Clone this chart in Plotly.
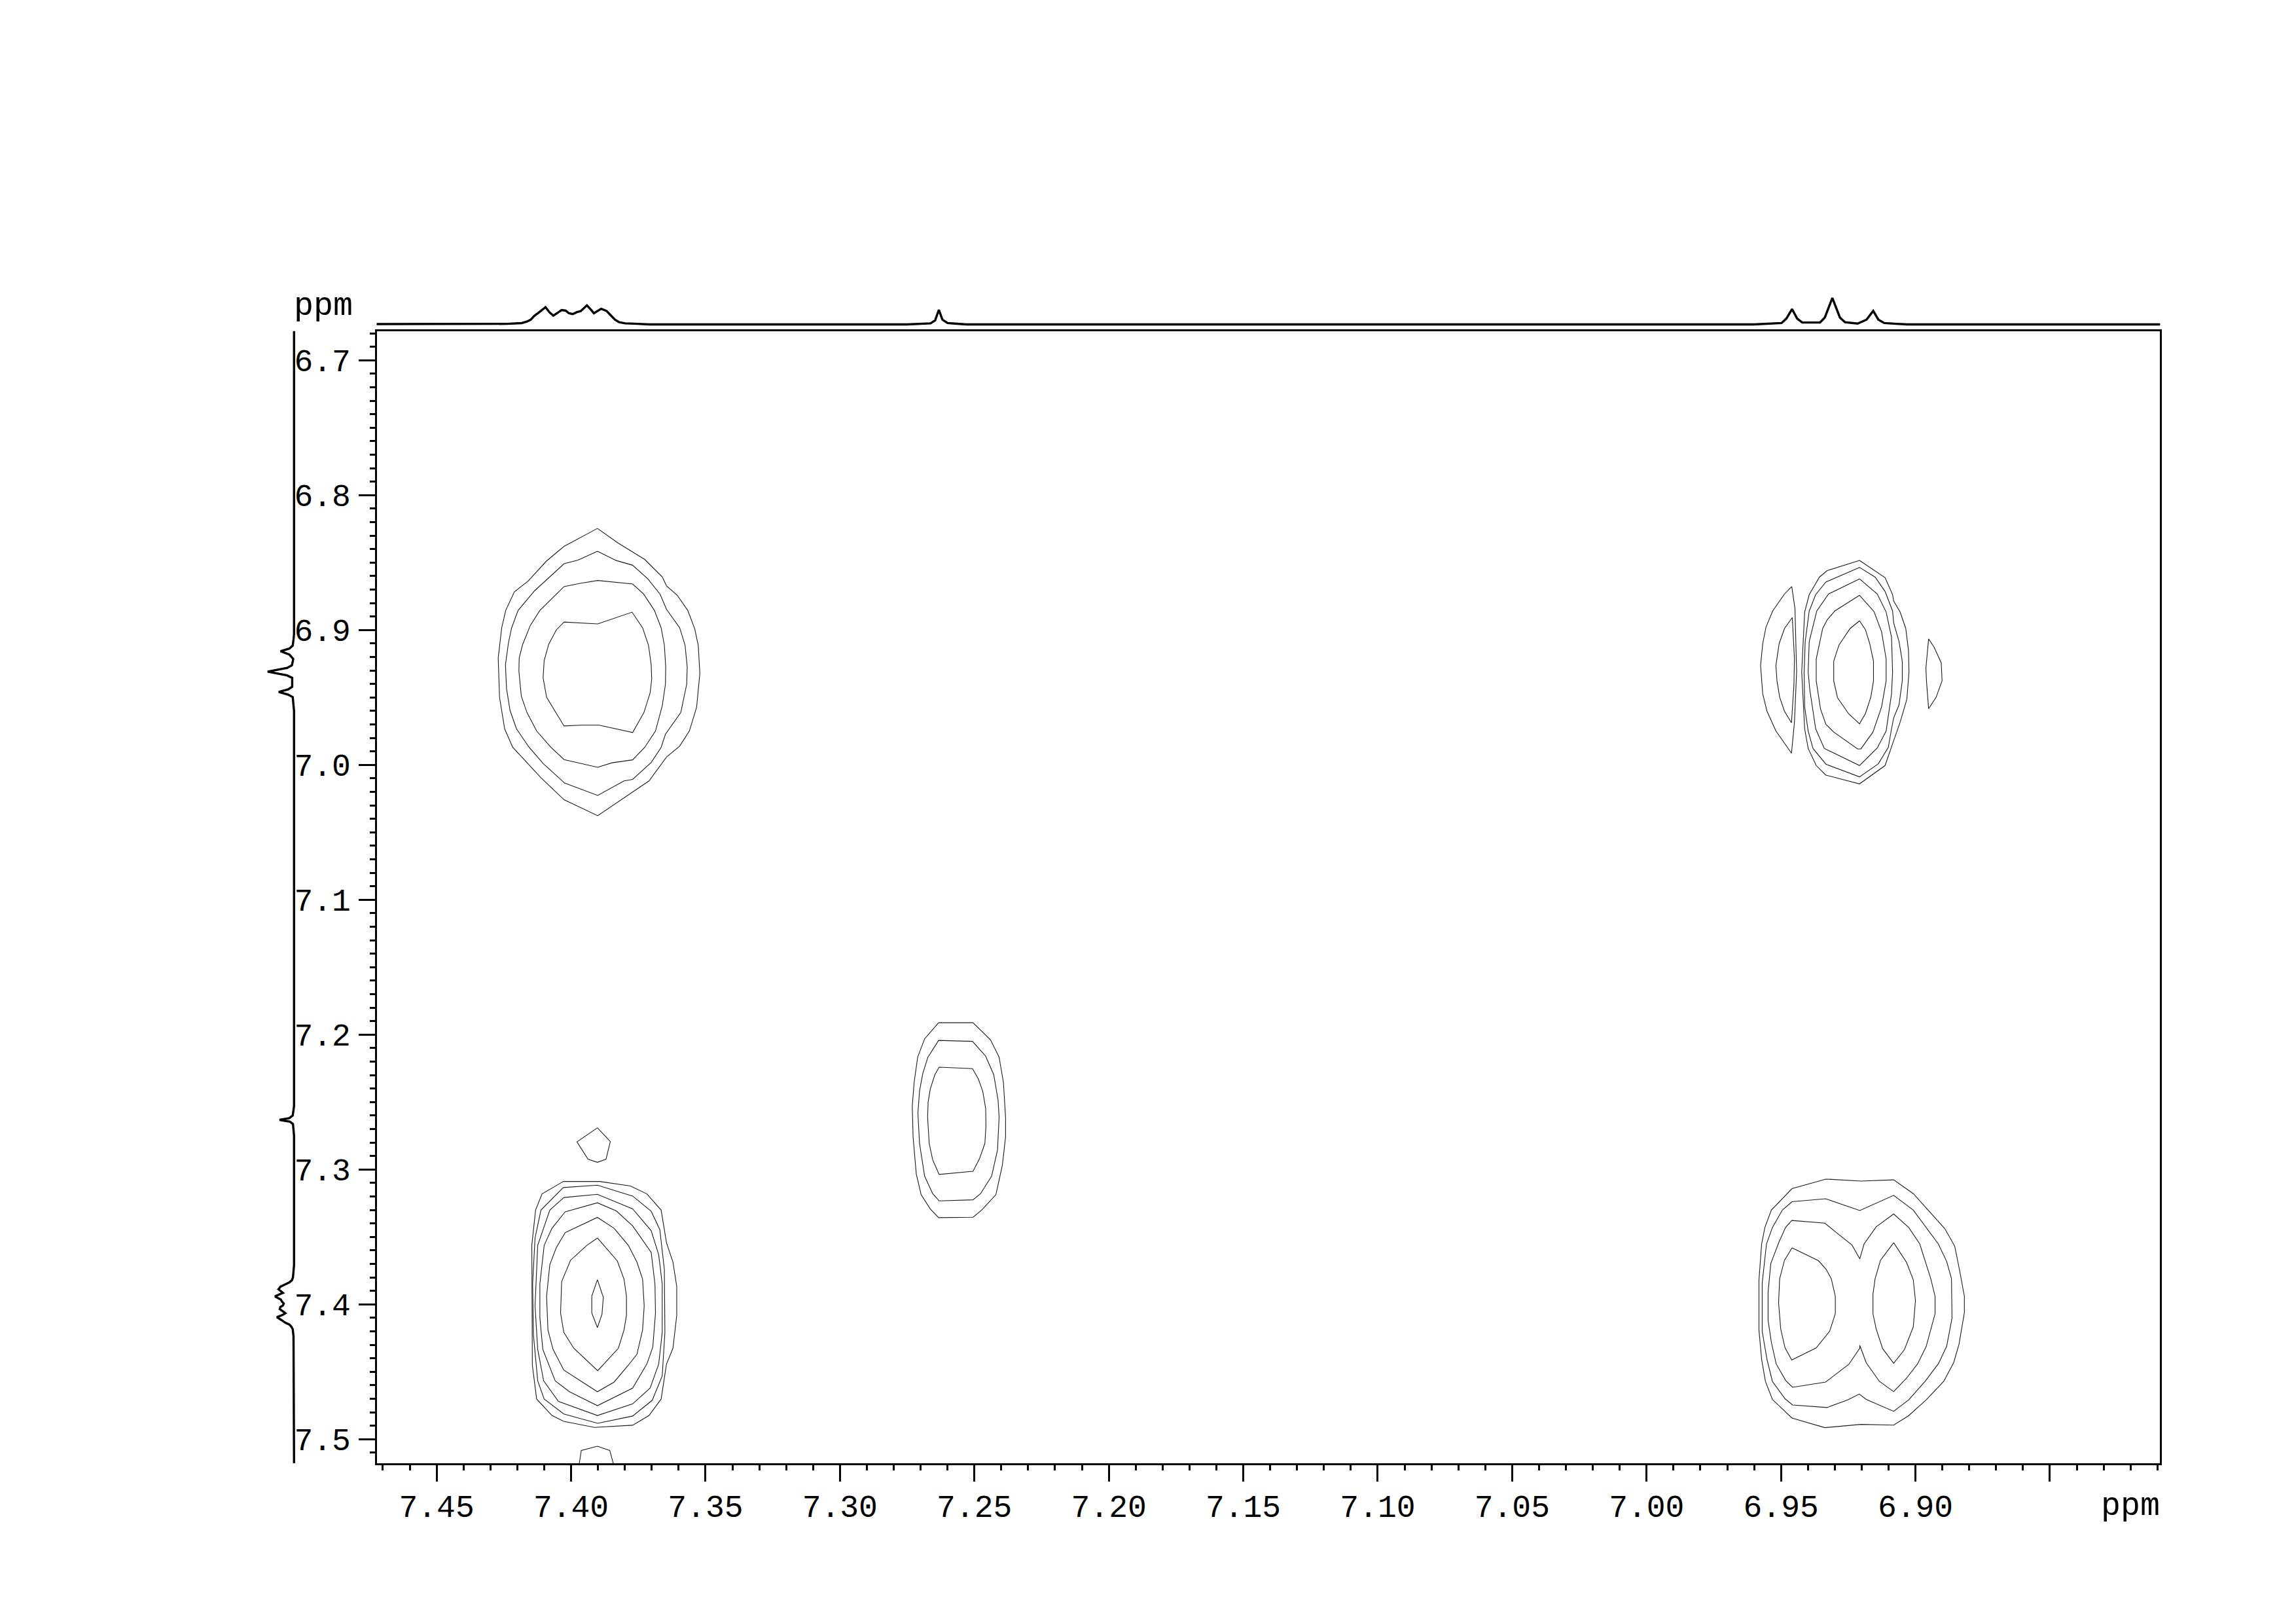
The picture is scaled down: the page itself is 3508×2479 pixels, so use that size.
import plotly.graph_objects as go

# 1D projection (ppm, relative intensity), used on both the top and the left side
spectrum_ppm = [7.5178, 7.4290, 7.4238, 7.4184, 7.4166, 7.4150, 7.4137, 7.4116, 7.4095, 7.4079, 7.4066, 7.4054, 7.4035,
                7.4020, 7.4008, 7.3994, 7.3979, 7.3964, 7.3941, 7.3926, 7.3915, 7.3888, 7.3868, 7.3855, 7.3837,
                7.3821, 7.3799, 7.3753, 7.3710, 7.2750, 7.2704, 7.2663, 7.2646, 7.2632, 7.2619, 7.2600, 7.2573, 7.2530,
                6.9600, 6.9554, 6.9498, 6.9480, 6.9459, 6.9440, 6.9421, 6.9355, 6.9337, 6.9309, 6.9281, 6.9262, 6.9215,
                6.9182, 6.9157, 6.9138, 6.9116, 6.9070, 6.9030, 6.6783]
spectrum_int = [0, 0, 0.02, 0.05, 0.10, 0.175, 0.32, 0.48, 0.65, 0.44, 0.33, 0.41, 0.54,
                0.52, 0.42, 0.39, 0.46, 0.50, 0.72, 0.55, 0.42, 0.59, 0.51, 0.37, 0.18,
                0.08, 0.04, 0.02, 0, 0, 0.02, 0.04, 0.15, 0.55, 0.18, 0.05, 0.03, 0,
                0, 0.03, 0.05, 0.22, 0.58, 0.22, 0.07, 0.07, 0.26, 1.0, 0.26, 0.08, 0.03,
                0.18, 0.51, 0.18, 0.05, 0.02, 0, 0]

x_major = [7.45, 7.40, 7.35, 7.30, 7.25, 7.20, 7.15, 7.10, 7.05, 7.00, 6.95, 6.90, 6.85]
x_labels = ["7.45", "7.40", "7.35", "7.30", "7.25", "7.20", "7.15", "7.10", "7.05", "7.00", "6.95", "6.90", ""]
y_major = [6.7, 6.8, 6.9, 7.0, 7.1, 7.2, 7.3, 7.4, 7.5]
y_labels = ["6.7", "6.8", "6.9", "7.0", "7.1", "7.2", "7.3", "7.4", "7.5"]

# Contours (F2 ppm, F1 ppm). Peak A: top left
A1 = [(7.3902,6.8247),(7.3825,6.8356),(7.3726,6.8477),(7.3661,6.8606),(7.3645,6.8673),(7.3605,6.8743),(7.3566,6.8855),(7.3540,6.8992),(7.3527,6.9113),(7.3521,6.9322),(7.3533,6.9572),(7.3560,6.9749),(7.3596,6.9861),(7.3645,6.9942),(7.3710,7.0119),(7.3807,7.0248),(7.3901,7.0377),(7.4026,7.0259),(7.4112,7.0095),(7.4217,6.9870),(7.4247,6.9733),(7.4266,6.9499),(7.4271,6.9209),(7.4258,6.8984),(7.4243,6.8855),(7.4211,6.8718),(7.4160,6.8638),(7.4091,6.8488),(7.4026,6.8380)]
A2 = [(7.3902,6.8416),(7.3832,6.8485),(7.3771,6.8520),(7.3714,6.8622),(7.3669,6.8734),(7.3645,6.8847),(7.3596,6.8984),(7.3576,6.9113),(7.3568,6.9274),(7.3570,6.9403),(7.3592,6.9612),(7.3649,6.9773),(7.3665,6.9870),(7.3702,6.9982),(7.3771,7.0108),(7.3803,7.0119),(7.3901,7.0227),(7.4024,7.0135),(7.4104,6.9990),(7.4156,6.9870),(7.4203,6.9733),(7.4227,6.9596),(7.4240,6.9435),(7.4244,6.9258),(7.4233,6.9097),(7.4221,6.8984),(7.4197,6.8855),(7.4136,6.8710),(7.4026,6.8509),(7.3974,6.8482)]
A3 = [(7.3901,6.8633),(7.3771,6.8659),(7.3730,6.8734),(7.3690,6.8855),(7.3665,6.8984),(7.3653,6.9113),(7.3648,6.9274),(7.3649,6.9403),(7.3661,6.9564),(7.3686,6.9749),(7.3726,6.9870),(7.3771,6.9963),(7.3848,6.9985),(7.3901,7.0018),(7.4026,6.9961),(7.4075,6.9870),(7.4128,6.9749),(7.4164,6.9612),(7.4185,6.9491),(7.4194,6.9306),(7.4193,6.9209),(7.4181,6.9113),(7.4152,6.8968),(7.4116,6.8855),(7.4026,6.8678),(7.3966,6.8654)]
A4 = [(7.4026,6.8941),(7.3901,6.8955),(7.3773,6.8868),(7.3734,6.8984),(7.3712,6.9113),(7.3702,6.9258),(7.3700,6.9362),(7.3706,6.9467),(7.3729,6.9612),(7.3771,6.9760),(7.3897,6.9705),(7.3958,6.9705),(7.4026,6.9712),(7.4091,6.9499),(7.4104,6.9354),(7.4100,6.9226),(7.4083,6.9105),(7.4055,6.9000)]

# Peak B: top right
B1 = [(6.9208,6.8484),(6.9113,6.8612),(6.9085,6.8738),(6.9081,6.8786),(6.9057,6.8867),(6.9036,6.8989),(6.9026,6.9150),(6.9024,6.9312),(6.9032,6.9514),(6.9057,6.9684),(6.9077,6.9798),(6.9089,6.9870),(6.9113,7.0005),(6.9208,7.0141),(6.9333,7.0076),(6.9369,7.0005),(6.9399,6.9878),(6.9412,6.9733),(6.9423,6.9312),(6.9412,6.8867),(6.9395,6.8738),(6.9357,6.8608),(6.9328,6.8560)]
B2 = [(6.9208,6.8536),(6.9150,6.8608),(6.9113,6.8714),(6.9085,6.8859),(6.9081,6.8948),(6.9061,6.9086),(6.9049,6.9231),(6.9049,6.9377),(6.9061,6.9555),(6.9081,6.9652),(6.9089,6.9733),(6.9101,6.9870),(6.9138,6.9992),(6.9208,7.0089),(6.9333,6.9995),(6.9381,6.9878),(6.9399,6.9749),(6.9412,6.9571),(6.9414,6.9312),(6.9410,6.9086),(6.9395,6.8859),(6.9371,6.8738),(6.9333,6.8644)]
B3 = [(6.9208,6.8621),(6.9142,6.8733),(6.9109,6.8867),(6.9089,6.9053),(6.9085,6.9312),(6.9089,6.9474),(6.9109,6.9749),(6.9142,6.9875),(6.9208,7.0005),(6.9339,6.9878),(6.9371,6.9733),(6.9393,6.9442),(6.9399,6.9312),(6.9395,6.9086),(6.9367,6.8859),(6.9323,6.8733)]
B4 = [(6.9208,6.8743),(6.9154,6.8864),(6.9126,6.9013),(6.9109,6.9215),(6.9109,6.9377),(6.9126,6.9571),(6.9158,6.9757),(6.9203,6.9882),(6.9215,6.9882),(6.9304,6.9757),(6.9333,6.9700),(6.9353,6.9587),(6.9369,6.9377),(6.9369,6.9215),(6.9345,6.8989),(6.9328,6.8924),(6.9300,6.8859)]
B5 = [(6.9208,6.8932),(6.9186,6.8997),(6.9170,6.9102),(6.9156,6.9231),(6.9156,6.9377),(6.9166,6.9498),(6.9186,6.9620),(6.9208,6.9696),(6.9249,6.9620),(6.9290,6.9501),(6.9304,6.9377),(6.9304,6.9231),(6.9284,6.9110),(6.9243,6.8989)]
B6 = [(6.9460,6.8678),(6.9448,6.8843),(6.9442,6.9312),(6.9450,6.9684),(6.9461,6.9914),(6.9519,6.9749),(6.9552,6.9603),(6.9568,6.9474),(6.9576,6.9264),(6.9568,6.9102),(6.9556,6.8980),(6.9531,6.8859),(6.9487,6.8733)]
B7 = [(6.9458,6.8908),(6.9450,6.9215),(6.9452,6.9409),(6.9461,6.9688),(6.9487,6.9603),(6.9505,6.9498),(6.9515,6.9377),(6.9519,6.9264),(6.9507,6.9102),(6.9487,6.8989)]
B8 = [(6.8951,6.9066),(6.8931,6.9126),(6.8904,6.9244),(6.8901,6.9377),(6.8923,6.9498),(6.8951,6.9584),(6.8959,6.9377),(6.8961,6.9280)]

# Peak C: centre
C1 = [(7.2633,7.1912),(7.2505,7.1912),(7.2440,7.2039),(7.2408,7.2168),(7.2392,7.2354),(7.2384,7.2613),(7.2384,7.2759),(7.2396,7.2969),(7.2420,7.3187),(7.2473,7.3301),(7.2505,7.3354),(7.2566,7.3357),(7.2633,7.3357),(7.2664,7.3293),(7.2698,7.3187),(7.2716,7.3034),(7.2728,7.2759),(7.2731,7.2532),(7.2724,7.2354),(7.2711,7.2168),(7.2685,7.2031)]
C2 = [(7.2633,7.2043),(7.2574,7.2047),(7.2507,7.2050),(7.2458,7.2160),(7.2428,7.2297),(7.2412,7.2484),(7.2408,7.2613),(7.2414,7.2856),(7.2436,7.3050),(7.2477,7.3179),(7.2505,7.3225),(7.2631,7.3233),(7.2655,7.3179),(7.2685,7.3050),(7.2704,7.2807),(7.2710,7.2581),(7.2704,7.2419),(7.2692,7.2289),(7.2673,7.2168)]
C3 = [(7.2631,7.2241),(7.2507,7.2252),(7.2485,7.2330),(7.2469,7.2419),(7.2458,7.2548),(7.2457,7.2678),(7.2461,7.2807),(7.2481,7.2920),(7.2505,7.3013),(7.2631,7.3037),(7.2655,7.2929),(7.2668,7.2807),(7.2674,7.2613),(7.2672,7.2500),(7.2664,7.2403),(7.2647,7.2297)]

# Peak D: bottom left
D0 = [(7.3902,7.2691),(7.3854,7.2793),(7.3870,7.2924),(7.3902,7.2947),(7.3937,7.2924),(7.3978,7.2795)]
D1 = [(7.4029,7.3089),(7.3893,7.3089),(7.3779,7.3122),(7.3718,7.3181),(7.3665,7.3301),(7.3645,7.3544),(7.3621,7.3687),(7.3607,7.3867),(7.3607,7.4082),(7.3621,7.4325),(7.3645,7.4442),(7.3665,7.4702),(7.3710,7.4824),(7.3771,7.4896),(7.3913,7.4912),(7.4027,7.4867),(7.4071,7.4824),(7.4128,7.4702),(7.4144,7.4451),(7.4146,7.3562),(7.4132,7.3301),(7.4108,7.3181)]
D2 = [(7.4029,7.3134),(7.3902,7.3116),(7.3771,7.3197),(7.3702,7.3310),(7.3670,7.3445),(7.3653,7.3741),(7.3651,7.4208),(7.3661,7.4531),(7.3698,7.4711),(7.3771,7.4828),(7.3901,7.4882),(7.4027,7.4813),(7.4100,7.4702),(7.4124,7.4567),(7.4140,7.4226),(7.4143,7.3849),(7.4134,7.3508),(7.4112,7.3301)]
D3 = [(7.4027,7.3208),(7.3902,7.3184),(7.3771,7.3292),(7.3702,7.3454),(7.3674,7.3633),(7.3661,7.3849),(7.3661,7.4208),(7.3674,7.4442),(7.3706,7.4621),(7.3771,7.4738),(7.3902,7.4824),(7.4047,7.4720),(7.4102,7.4567),(7.4124,7.4334),(7.4134,7.4011),(7.4124,7.3562),(7.4079,7.3301)]
D4 = [(7.4022,7.3314),(7.3902,7.3247),(7.3832,7.3307),(7.3771,7.3418),(7.3702,7.3615),(7.3688,7.3849),(7.3686,7.4064),(7.3696,7.4316),(7.3718,7.4442),(7.3771,7.4621),(7.3902,7.4751),(7.4006,7.4648),(7.4059,7.4567),(7.4105,7.4334),(7.4116,7.4100),(7.4116,7.3849),(7.4100,7.3562),(7.4071,7.3436)]
D5 = [(7.4022,7.3468),(7.3902,7.3355),(7.3840,7.3436),(7.3787,7.3562),(7.3755,7.3687),(7.3734,7.3813),(7.3728,7.4011),(7.3734,7.4190),(7.3755,7.4370),(7.3787,7.4451),(7.3840,7.4576),(7.3902,7.4648),(7.4027,7.4487),(7.4067,7.4334),(7.4086,7.4190),(7.4091,7.3939),(7.4079,7.3705),(7.4055,7.3580)]
D6 = [(7.3902,7.3508),(7.3828,7.3678),(7.3803,7.3813),(7.3794,7.3939),(7.3794,7.4082),(7.3803,7.4190),(7.3824,7.4325),(7.3901,7.4492),(7.3990,7.4325),(7.4027,7.4208),(7.4039,7.4064),(7.4035,7.3831),(7.4002,7.3673),(7.3941,7.3562)]
D7 = [(7.3902,7.3817),(7.3880,7.3948),(7.3885,7.4073),(7.3902,7.4172),(7.3923,7.4064),(7.3923,7.3939)]
D_edge = [(7.3970,7.5187),(7.3962,7.5083),(7.3902,7.5052),(7.3856,7.5083),(7.3842,7.5187)]

# Peak E: bottom right
E1 = [(6.9333,7.3071),(6.9203,7.3086),(6.9081,7.3077),(6.9008,7.3179),(6.8891,7.3438),(6.8854,7.3568),(6.8836,7.3746),(6.8818,7.3940),(6.8818,7.4061),(6.8838,7.4296),(6.8858,7.4433),(6.8895,7.4571),(6.8960,7.4708),(6.9025,7.4825),(6.9081,7.4895),(6.9203,7.4890),(6.9337,7.4914),(6.9459,7.4843),(6.9532,7.4705),(6.9558,7.4571),(6.9572,7.4409),(6.9582,7.4191),(6.9582,7.3819),(6.9572,7.3552),(6.9560,7.3430),(6.9536,7.3301),(6.9459,7.3142)]
E2 = [(6.9459,7.3239),(6.9334,7.3217),(6.9207,7.3304),(6.9081,7.3192),(6.9008,7.3301),(6.8915,7.3552),(6.8884,7.3681),(6.8866,7.3810),(6.8864,7.4102),(6.8884,7.4312),(6.8915,7.4441),(6.8964,7.4571),(6.9025,7.4708),(6.9081,7.4793),(6.9183,7.4705),(6.9209,7.4665),(6.9252,7.4708),(6.9329,7.4765),(6.9457,7.4746),(6.9485,7.4700),(6.9532,7.4571),(6.9552,7.4409),(6.9570,7.4199),(6.9570,7.3843),(6.9554,7.3552),(6.9532,7.3430),(6.9495,7.3301)]
E3 = [(6.9460,7.3378),(6.9337,7.3398),(6.9292,7.3471),(6.9236,7.3560),(6.9207,7.3662),(6.9191,7.3552),(6.9146,7.3425),(6.9081,7.3330),(6.9025,7.3430),(6.8984,7.3552),(6.8943,7.3810),(6.8927,7.3940),(6.8927,7.4069),(6.8960,7.4312),(6.8992,7.4441),(6.9033,7.4547),(6.9081,7.4647),(6.9134,7.4571),(6.9183,7.4433),(6.9207,7.4304),(6.9207,7.4325),(6.9248,7.4445),(6.9334,7.4576),(6.9457,7.4615),(6.9483,7.4563),(6.9518,7.4441),(6.9536,7.4280),(6.9548,7.4118),(6.9548,7.3908),(6.9538,7.3697),(6.9507,7.3535),(6.9483,7.3430)]
E4 = [(6.9459,7.3581),(6.9361,7.3676),(6.9333,7.3738),(6.9313,7.3810),(6.9298,7.3940),(6.9298,7.4069),(6.9319,7.4199),(6.9369,7.4323),(6.9460,7.4412),(6.9485,7.4323),(6.9501,7.4183),(6.9509,7.3988),(6.9505,7.3810),(6.9487,7.3673)]
E5 = [(6.9081,7.3543),(6.9033,7.3689),(6.9008,7.3819),(6.9000,7.3972),(6.9008,7.4166),(6.9041,7.4336),(6.9081,7.4437),(6.9122,7.4328),(6.9146,7.4183),(6.9158,7.4069),(6.9158,7.3924),(6.9150,7.3810),(6.9130,7.3673)]

closed_contours = [A1, A2, A3, A4, B1, B2, B3, B4, B5, B6, B7, B8, C1, C2, C3,
                   D0, D1, D2, D3, D4, D5, D6, D7, E1, E2, E3, E4, E5]
open_contours = [D_edge]

W, H = 3508, 2479
PLOT_L, PLOT_R, PLOT_T, PLOT_B = 575.5, 3300.4, 505.5, 2235.0
F2_RANGE = [7.4723, 6.8090]
F1_RANGE = [7.5178, 6.6783]
FONT = "Liberation Mono"
FS = 48
INK = "#000000"

fig = go.Figure()

for c in closed_contours + open_contours:
    pts = c + [c[0]] if c in closed_contours else c
    fig.add_trace(go.Scatter(x=[p[0] for p in pts], y=[p[1] for p in pts], mode="lines",
                             line=dict(color="#1a1a1a", width=1.1), showlegend=False, hoverinfo="skip"))

fig.add_trace(go.Scatter(x=spectrum_ppm, y=spectrum_int, xaxis="x", yaxis="y2", mode="lines",
                         line=dict(color=INK, width=3.4), showlegend=False, hoverinfo="skip"))
fig.add_trace(go.Scatter(x=spectrum_int, y=spectrum_ppm, xaxis="x2", yaxis="y", mode="lines",
                         line=dict(color=INK, width=3.4), showlegend=False, hoverinfo="skip"))

axis_common = dict(showgrid=False, zeroline=False, showline=True, linecolor=INK, linewidth=3, mirror=True,
                   ticks="outside", tickcolor=INK, tickwidth=3, ticklen=25, tickmode="array",
                   tickfont=dict(family=FONT, size=FS, color=INK), automargin=False)

fig.update_layout(
    width=W, height=H, autosize=False,
    margin=dict(l=0, r=0, t=0, b=0, pad=0),
    paper_bgcolor="white", plot_bgcolor="white", showlegend=False,
    xaxis=dict(domain=[PLOT_L / W, PLOT_R / W], range=F2_RANGE, tickvals=x_major, ticktext=x_labels,
               ticklabelstandoff=-4, anchor="y",
               minor=dict(ticks="outside", ticklen=8, tickwidth=3, tickcolor=INK, tick0=7.0, dtick=0.01, showgrid=False),
               **axis_common),
    yaxis=dict(domain=[1 - PLOT_B / H, 1 - PLOT_T / H], range=F1_RANGE, tickvals=y_major, ticktext=y_labels,
               ticklabelstandoff=2, anchor="x",
               minor=dict(ticks="outside", ticklen=8, tickwidth=3, tickcolor=INK, tick0=7.0, dtick=0.01, showgrid=False),
               **axis_common),
    yaxis2=dict(domain=[1 - 499.5 / H, 1 - 451.0 / H], range=[-0.1, 1.1], visible=False, anchor="free", position=0),
    xaxis2=dict(domain=[404.9 / W, 453.3 / W], range=[1.1, -0.1], visible=False, anchor="free", position=0),
    annotations=[
        dict(text="ppm", xref="paper", yref="paper", x=541 / W, y=1 - 468 / H, xanchor="right", yanchor="middle",
             showarrow=False, font=dict(family=FONT, size=50, color=INK)),
        dict(text="ppm", xref="paper", yref="paper", x=3302 / W, y=1 - 2300 / H, xanchor="right", yanchor="middle",
             showarrow=False, font=dict(family=FONT, size=50, color=INK)),
    ],
)

fig.write_html("out.html", post_script="document.body.style.margin='0';", config={"displayModeBar": False})
